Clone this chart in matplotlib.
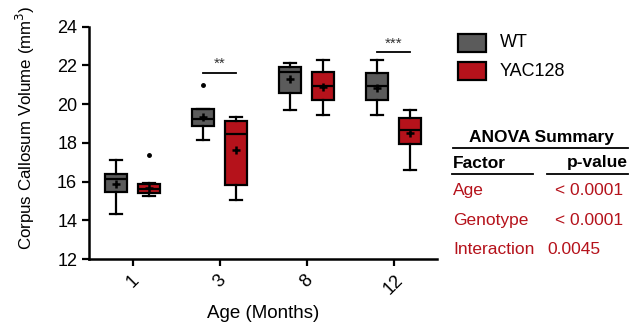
import numpy as np
import matplotlib.pyplot as plt

plt.rcParams['font.family'] = ['Liberation Sans', 'DejaVu Sans']

ages = ["1", "3", "8", "12"]
groups = ["WT", "YAC128"]
colors = ["#5b5b5b", "#b5121b"]

# box stats per age: whisker low, q1, median, q3, whisker high, mean
wt_whislo = [14.31, 18.14, 19.69, 19.42]
wt_q1 = [15.45, 18.87, 20.56, 20.21]
wt_med = [16.12, 19.21, 21.67, 20.93]
wt_q3 = [16.37, 19.73, 21.90, 21.62]
wt_whishi = [17.12, 19.75, 22.10, 22.28]
wt_mean = [15.87, 19.31, 21.28, 20.85]
wt_fliers = [[], [21.0], [], []]

yac_whislo = [15.26, 15.07, 19.42, 16.62]
yac_q1 = [15.43, 15.81, 20.21, 17.95]
yac_med = [15.64, 18.44, 20.93, 18.66]
yac_q3 = [15.85, 19.14, 21.64, 19.29]
yac_whishi = [15.93, 19.35, 22.28, 19.71]
yac_mean = [15.68, 17.62, 20.87, 18.52]
yac_fliers = [[17.36], [], [], []]

# significance: age index, label, bar height
sig_idx = [1, 3]
sig_lab = ["**", "***"]
sig_y = [21.62, 22.68]

anova_factor = ["Age", "Genotype", "Interaction"]
anova_p = ["< 0.0001", "< 0.0001", "0.0045"]

W, H = 631, 322
fig = plt.figure(figsize=(W / 100, H / 100), dpi=100)
ax = fig.add_axes([89 / W, 1 - 259 / H, (437 - 89) / W, (259 - 26.7) / H])


def make_stats(lo, q1, med, q3, hi, mean, fl):
    return [dict(whislo=a, q1=b, med=c, q3=d, whishi=e, mean=f, fliers=g)
            for a, b, c, d, e, f, g in zip(lo, q1, med, q3, hi, mean, fl)]


wt_stats = make_stats(wt_whislo, wt_q1, wt_med, wt_q3, wt_whishi, wt_mean, wt_fliers)
yac_stats = make_stats(yac_whislo, yac_q1, yac_med, yac_q3, yac_whishi, yac_mean, yac_fliers)

x = np.arange(len(ages))
off = 0.19
lw = 1.6
for stats, pos, col in [(wt_stats, x - off, colors[0]), (yac_stats, x + off, colors[1])]:
    ax.bxp(stats, positions=pos, widths=0.26, patch_artist=True, showmeans=True,
           boxprops=dict(facecolor=col, edgecolor="black", linewidth=lw),
           medianprops=dict(color="black", linewidth=lw),
           whiskerprops=dict(color="black", linewidth=lw),
           capprops=dict(color="black", linewidth=lw),
           capwidths=0.14,
           meanprops=dict(marker="+", markeredgecolor="black", markersize=6, markeredgewidth=1.8),
           flierprops=dict(marker="o", markerfacecolor="black", markeredgecolor="black", markersize=2.5))

for i, lab, yy in zip(sig_idx, sig_lab, sig_y):
    ax.plot([i - off, i + off], [yy, yy], color="black", lw=1.3)
    ax.text(i, yy + 0.08, lab, ha="center", va="bottom", fontsize=11, color="#333333")

ax.set_xlim(-0.5, 3.5)
ax.set_ylim(12, 24)
ax.set_yticks(np.arange(12, 25, 2))
ax.set_xticks(x)
ax.set_xticklabels(ages, rotation=45, ha="center")
ax.tick_params(axis="both", labelsize=13, width=1.6, length=5, color="black")
ax.tick_params(axis="x", pad=4)
for s in ["top", "right"]:
    ax.spines[s].set_visible(False)
for s in ["left", "bottom"]:
    ax.spines[s].set_linewidth(1.8)
ax.set_ylabel("Corpus Callosum Volume (mm$^3$)", fontsize=12.2)
ax.yaxis.set_label_coords(-0.15, 0.565)
ax.set_xlabel("Age (Months)", fontsize=13.5, labelpad=5)

# legend drawn as figure patches
def fx(px):
    return px / W


def fy(py):
    return 1 - py / H


for col, name, top in zip(colors, groups, [33.5, 62]):
    fig.patches.append(plt.Rectangle((fx(458), fy(top + 18)), 28 / W, 18 / H,
                                     transform=fig.transFigure, facecolor=col,
                                     edgecolor="black", linewidth=1.6))
    fig.text(fx(500), fy(top + 9), name, fontsize=13, va="center", ha="left")

red = "#b5121b"
fig.text(fx(541), fy(137), "ANOVA Summary", fontsize=12.5, fontweight="bold", ha="center", va="center")
fig.add_artist(plt.Line2D([fx(453), fx(628)], [fy(148.5), fy(148.5)], color="black", lw=1.3))
fig.text(fx(453), fy(163), "Factor", fontsize=12.5, fontweight="bold", ha="left", va="center")
fig.text(fx(628), fy(163), "p-value", fontsize=12.5, fontweight="bold", ha="right", va="center")
fig.add_artist(plt.Line2D([fx(452), fx(533)], [fy(174), fy(174)], color="black", lw=1.3))
fig.add_artist(plt.Line2D([fx(547), fx(628)], [fy(174), fy(174)], color="black", lw=1.3))
for i, (fac, p) in enumerate(zip(anova_factor, anova_p)):
    yy = fy(191 + 29.5 * i)
    fig.text(fx(453), yy, fac, fontsize=12.5, color=red, ha="left", va="center")
    px = 555 if p.startswith("<") else 547
    fig.text(fx(px), yy, p, fontsize=12.5, color=red, ha="left", va="center")

fig.savefig("out.png", dpi=100)
